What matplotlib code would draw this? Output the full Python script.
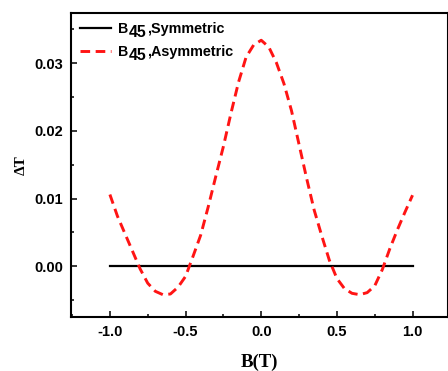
import matplotlib
matplotlib.use("Agg")
import matplotlib.pyplot as plt
from matplotlib.lines import Line2D
from matplotlib.text import Text
from matplotlib.offsetbox import (AnchoredOffsetbox, DrawingArea, HPacker,
                                  TextArea, VPacker)
from matplotlib.ticker import MultipleLocator

# magnetic field B (T)
b_field = [-1.00, -0.95, -0.90, -0.85, -0.80, -0.75, -0.70, -0.65, -0.60,
           -0.55, -0.50, -0.45, -0.40, -0.35, -0.30, -0.25, -0.20, -0.15,
           -0.10, -0.05, 0.00, 0.05, 0.10, 0.15, 0.20, 0.25, 0.30, 0.35,
           0.40, 0.45, 0.50, 0.55, 0.60, 0.65, 0.70, 0.75, 0.80, 0.85,
           0.90, 0.95, 1.00]

# delta T, symmetric case (flat)
dt_sym = [0.0] * len(b_field)

# delta T, asymmetric case
dt_asym = [0.0106, 0.0074, 0.0048, 0.0022, -0.0004, -0.0025, -0.0037,
           -0.0042, -0.0041, -0.0031, -0.0015, 0.0015, 0.0046, 0.0088,
           0.0133, 0.0177, 0.0226, 0.0272, 0.0309, 0.0327, 0.0334, 0.0324,
           0.0301, 0.0270, 0.0230, 0.0180, 0.0130, 0.0083, 0.0045, 0.0009,
           -0.0018, -0.0033, -0.0040, -0.0042, -0.0039, -0.0029, -0.0005,
           0.0026, 0.0054, 0.0080, 0.0105]

x_ticks = [-1.0, -0.5, 0.0, 0.5, 1.0]
y_ticks = [0.00, 0.01, 0.02, 0.03]

series_names = ["Symmetric", "Asymmetric"]

SANS = "Liberation Sans"
SERIF = "Liberation Serif"
RED = "#ff1414"
DASH = (3.3, 1.9)


def init_plt_env():
    plt.rcParams['font.family'] = [SANS, 'DejaVu Sans']
    plt.rcParams['axes.unicode_minus'] = False
    plt.rcParams['axes.linewidth'] = 1.5


def legend_row(name, color, dashed):
    da = DrawingArea(22, 8, 0, 0)
    line = Line2D([0, 22], [3.8, 3.8], color=color, lw=2.1 if dashed else 1.6)
    if dashed:
        line.set_dashes(DASH)
    da.add_artist(line)

    # "45" sits a bit below the baseline of "B"
    sub = DrawingArea(12.6, 8, 0, 0)
    sub.add_artist(Text(0, -2.3, "45", fontsize=11.4, fontweight="bold",
                        family=SANS, va="baseline"))

    txt = HPacker(children=[TextArea("B", textprops=dict(size=10.2, weight="bold")),
                            sub,
                            TextArea("," + name, textprops=dict(size=10.4, weight="bold"))],
                  align="baseline", pad=0, sep=0.6)
    return HPacker(children=[da, txt], align="baseline", pad=0, sep=5)


def draw(ax):
    ax.plot(b_field, dt_sym, color="black", lw=1.6)
    ax.plot(b_field, dt_asym, color=RED, lw=2.1, ls=(0, DASH))

    ax.set_xlim(-1.257, 1.231)
    ax.set_ylim(-0.0075, 0.0375)
    ax.set_xticks(x_ticks)
    ax.set_yticks(y_ticks)
    ax.set_xticklabels(["%.1f" % v for v in x_ticks])
    ax.set_yticklabels(["%.2f" % v for v in y_ticks])
    ax.xaxis.set_minor_locator(MultipleLocator(0.25))
    ax.yaxis.set_minor_locator(MultipleLocator(0.005))
    ax.tick_params(which="both", direction="in", width=1.1, top=False, right=False)
    ax.tick_params(which="major", length=4.2, pad=5.5, labelsize=10.5)
    ax.tick_params(which="minor", length=2.5)
    for lab in ax.get_xticklabels() + ax.get_yticklabels():
        lab.set_fontweight("bold")

    ax.set_xlabel("B(T)", family=SERIF, fontsize=13.5, fontweight="bold", labelpad=11)
    ax.set_ylabel("\u0394T", family=SERIF, fontsize=11, fontweight="bold", labelpad=5)

    rows = [legend_row(series_names[0], "black", False),
            legend_row(series_names[1], RED, True)]
    box = VPacker(children=rows, align="left", pad=0, sep=6.5)
    leg = AnchoredOffsetbox(loc="upper left", child=box, pad=0, borderpad=0,
                            frameon=False, bbox_to_anchor=(0.024, 0.968),
                            bbox_transform=ax.transAxes)
    ax.add_artist(leg)


if __name__ == '__main__':
    init_plt_env()
    fig = plt.figure(figsize=(4.48, 3.71), dpi=100)
    ax = fig.add_axes([71 / 448, 54 / 371, 376.5 / 448, 304.5 / 371])
    draw(ax)
    fig.savefig("out.png", dpi=100)
